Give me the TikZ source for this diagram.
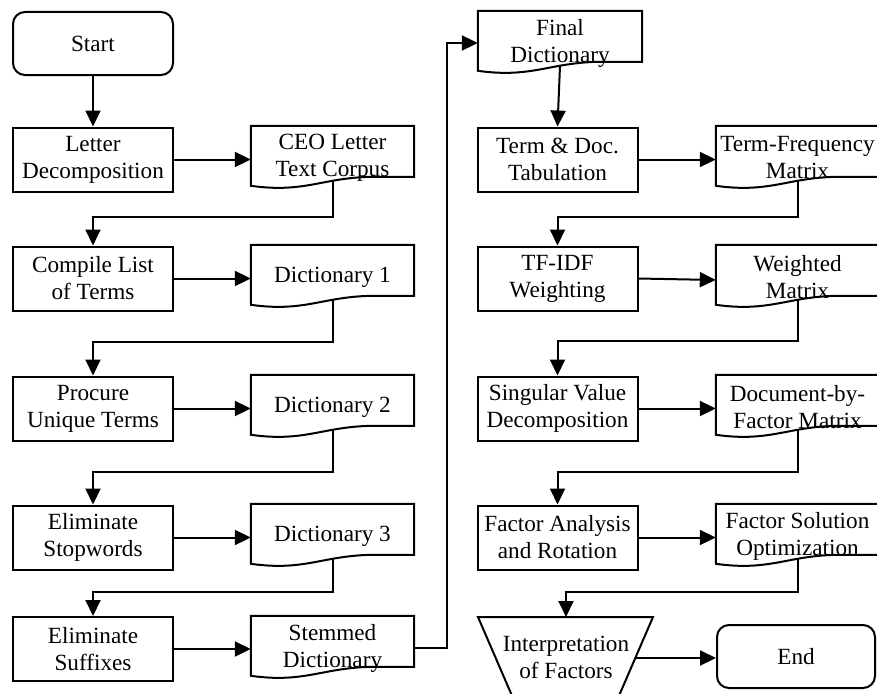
\documentclass[tikz,border=0pt]{standalone}
\usepackage{fontspec}
\setmainfont{Liberation Serif}
\usetikzlibrary{arrows.meta,calc}
\newcommand\docdraw[1]{\draw[outline] (#1.north west) -- ([yshift=-60pt]#1.north west) .. controls ([shift={(57pt,-68pt)}]#1.north west) and ([shift={(73pt,-50pt)}]#1.north west) .. ([shift={(130pt,-51pt)}]#1.north west) -- ([yshift=-51pt]#1.north east) -- (#1.north east) -- cycle;}
\begin{document}
\begin{tikzpicture}[x=1pt,y=-1pt,
  every node/.style={font=\fontsize{23.2}{27}\selectfont, align=center, inner sep=0pt},
  procbox/.style={draw, line width=2pt, minimum width=160pt, minimum height=64pt},
  termbox/.style={procbox, rounded corners=12pt, minimum height=63pt},
  docnode/.style={minimum width=163pt, minimum height=64pt},
  outline/.style={line width=2pt, line join=miter},
  arr/.style={line width=2pt, -{Triangle[length=16pt,width=15pt]}},
]
\useasboundingbox (0,0) rectangle (877,693);
% left column
\node[termbox] (start) at (93,43.5) {Start};
\node[procbox] (ld) at (93,159.5) {Letter\\Decomposition};
\node[docnode] (ceo) at (332.5,158) {CEO Letter\\Text Corpus};
\node[procbox] (cl) at (93,278.5) {Compile List\\of Terms};
\node[docnode] (d1) at (332.5,277) {Dictionary 1};
\node[procbox] (pu) at (93,408.5) {Procure\\Unique Terms};
\node[docnode] (d2) at (332.5,407) {Dictionary 2};
\node[procbox] (es) at (93,537.5) {Eliminate\\Stopwords};
\node[docnode] (d3) at (332.5,536) {Dictionary 3};
\node[procbox] (ef) at (93,649) {Eliminate\\Suffixes};
\node[docnode] (sd) at (332.5,648) {Stemmed\\Dictionary};
% right column
\node[docnode, minimum width=164pt] (fd) at (560,43) {Final\\Dictionary};
\node[procbox] (td) at (557.5,159.5) {Term \& Doc.\\Tabulation};
\node[docnode] (tf) at (797.5,158) {Term-Frequency\\Matrix};
\node[procbox] (ti) at (557.5,278.5) {TF-IDF\\Weighting};
\node[docnode] (wm) at (797.5,277) {Weighted\\Matrix};
\node[procbox] (sv) at (557.5,408.5) {Singular Value\\Decomposition};
\node[docnode] (df) at (797.5,407) {Document-by-\\Factor Matrix};
\node[procbox] (fa) at (557.5,537.5) {Factor Analysis\\and Rotation};
\node[docnode] (fs) at (797.5,536) {Factor Solution\\Optimization};
\node (interp) at (566,657) {Interpretation\\of Factors};
\node[termbox, minimum width=158pt] (end) at (796,656.5) {End};
% document outlines
\docdraw{ceo}\docdraw{d1}\docdraw{d2}\docdraw{d3}\docdraw{sd}
\docdraw{fd}\docdraw{tf}\docdraw{wm}\docdraw{df}\docdraw{fs}
% trapezoid
\draw[outline] (478,617) -- (653,617) -- (615,705) -- (516,705) -- cycle;
\coordinate (itop) at (566,617);
\coordinate (iout) at (636,658);
% junction coordinates
\coordinate (j1) at (93,217);
\coordinate (j2) at (93,342);
\coordinate (j3) at (93,472);
\coordinate (j4) at (93,592);
\coordinate (j5) at (447,43);
\coordinate (k1) at (557.5,217);
\coordinate (k2) at (557.5,341);
\coordinate (k3) at (557.5,472);
\coordinate (k4) at (566,592);
% connectors left
\draw[arr] (start) -- (ld);
\draw[arr] (ld.east) -- (ld.east -| ceo.west);
\draw[arr] ([yshift=-55pt]ceo.north) |- (j1) -- (cl);
\draw[arr] (cl.east) -- (cl.east -| d1.west);
\draw[arr] ([yshift=-55pt]d1.north) |- (j2) -- (pu);
\draw[arr] (pu.east) -- (pu.east -| d2.west);
\draw[arr] ([yshift=-55pt]d2.north) |- (j3) -- (es);
\draw[arr] (es.east) -- (es.east -| d3.west);
\draw[arr] ([yshift=-55pt]d3.north) |- (j4) -- (ef);
\draw[arr] (ef.east) -- (ef.east -| sd.west);
\draw[arr] (sd.east) -| (j5) -- (fd.west);
% connectors right
\draw[arr] ([yshift=-55pt]fd.north) -- (td.north);
\draw[arr] (td.east) -- (td.east -| tf.west);
\draw[arr] ([yshift=-55pt]tf.north) |- (k1) -- (ti);
\draw[arr] (ti.east) -- ([yshift=-1.5pt]ti.east -| wm.west);
\draw[arr] ([yshift=-55pt]wm.north) |- (k2) -- (sv);
\draw[arr] (sv.east) -- (sv.east -| df.west);
\draw[arr] ([yshift=-55pt]df.north) |- (k3) -- (fa);
\draw[arr] (fa.east) -- (fa.east -| fs.west);
\draw[arr] ([yshift=-55pt]fs.north) |- (k4) -- (itop);
\draw[arr] (iout) -- (iout -| end.west);
\end{tikzpicture}
\end{document}
